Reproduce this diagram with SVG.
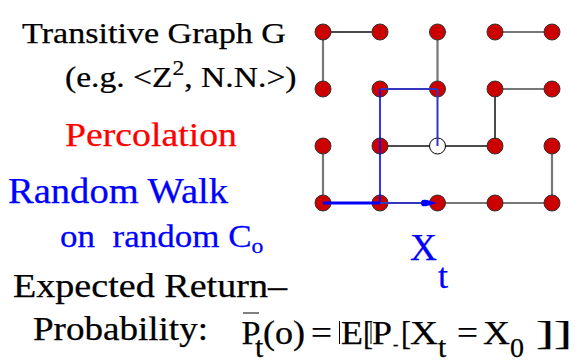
<svg xmlns="http://www.w3.org/2000/svg" width="579" height="362" viewBox="0 0 579 362" font-family="'Liberation Serif', 'Times New Roman', serif">
<style>
text{font-family:"Liberation Serif","Times New Roman",serif;stroke-width:0.25}
.k{fill:#000;stroke:#000}
.red{fill:#ff0000;stroke:#ff0000}
.blue{fill:#0000ff;stroke:#0000ff}
.node{fill:#cc0000;stroke:#333;stroke-width:1}
.open{fill:#fff;stroke:#000;stroke-width:1}
.e1{stroke:#111;stroke-width:1.5}
.e2{stroke:#777;stroke-width:2.2}
.wb{stroke:#0000ff;stroke-width:1.6}
.wp{stroke:#3535c0;stroke-width:2}
.bar{stroke:#000;stroke-width:1}
</style>
<rect width="579" height="362" fill="#fff"/>
<g id="connectors">
<line class="e1" x1="323" y1="32" x2="380" y2="32"/>
<line class="e2" x1="495" y1="32" x2="552" y2="32"/>
<line class="e2" x1="323" y1="32" x2="323" y2="89"/>
<line class="e2" x1="437.5" y1="32" x2="437.5" y2="89"/>
<line class="e2" x1="495" y1="89" x2="552" y2="89"/>
<line class="e1" x1="495" y1="89" x2="495" y2="146"/>
<line class="e1" x1="380" y1="146" x2="495" y2="146"/>
<line class="e2" x1="552" y1="146" x2="552" y2="203"/>
<line class="e2" x1="323" y1="146" x2="323" y2="203"/>
<line class="e2" x1="437.5" y1="203" x2="552" y2="203"/>
</g>
<g id="nodes">
<circle class="node" cx="323" cy="32" r="8"/>
<circle class="node" cx="380" cy="32" r="8"/>
<circle class="node" cx="437.5" cy="32" r="8"/>
<circle class="node" cx="495" cy="32" r="8"/>
<circle class="node" cx="552" cy="32" r="8"/>
<circle class="node" cx="323" cy="89" r="8"/>
<circle class="node" cx="380" cy="89" r="8"/>
<circle class="node" cx="437.5" cy="89" r="8"/>
<circle class="node" cx="495" cy="89" r="8"/>
<circle class="node" cx="552" cy="89" r="8"/>
<circle class="node" cx="323" cy="146" r="8"/>
<circle class="node" cx="380" cy="146" r="8"/>
<circle class="open" cx="437.5" cy="146" r="8"/>
<circle class="node" cx="495" cy="146" r="8"/>
<circle class="node" cx="552" cy="146" r="8"/>
<circle class="node" cx="323" cy="203" r="8"/>
<circle class="node" cx="380" cy="203" r="8"/>
<circle class="node" cx="437.5" cy="203" r="8"/>
<circle class="node" cx="495" cy="203" r="8"/>
<circle class="node" cx="552" cy="203" r="8"/>
</g>
<g id="walk">
<line class="wb" x1="380" y1="203" x2="380" y2="89"/>
<line class="wp" x1="380" y1="89" x2="437.5" y2="89"/>
<line class="wp" x1="437.5" y1="89" x2="437.5" y2="146"/>
<line x1="323" y1="203" x2="380" y2="203" stroke="#0000ff" stroke-width="3"/>
<line x1="380" y1="203" x2="424" y2="203" stroke="#3535c0" stroke-width="2.2"/>
<path d="M421,203 C421,199 424,199.5 427,200 L437,203 L427,206 C424,206.5 421,207 421,203 Z" fill="#0000ff"/>
</g>
<g id="labels">
<text class="k" x="22" y="43" font-size="30" textLength="264" lengthAdjust="spacingAndGlyphs">Transitive Graph G</text>
<text class="k" transform="translate(65,87) scale(1.12,1)" font-size="30">(e.g. &lt;Z<tspan font-size="21" dy="-12">2</tspan><tspan dy="12">, N.N.&gt;)</tspan></text>
<text class="red" x="65" y="146" font-size="34" textLength="172" lengthAdjust="spacingAndGlyphs">Percolation</text>
<text class="blue" x="8" y="203" font-size="35" textLength="220" lengthAdjust="spacingAndGlyphs">Random Walk</text>
<text class="blue" transform="translate(60,247) scale(1.13,1)" font-size="31">on&#160; random C<tspan font-size="21" dy="6">o</tspan></text>
<text class="blue" x="410" y="260" font-size="37" textLength="27" lengthAdjust="spacingAndGlyphs">X</text>
<text class="blue" x="438" y="288" font-size="36">t</text>
<text class="k" x="13" y="297" font-size="33" textLength="274" lengthAdjust="spacingAndGlyphs">Expected Return–</text>
<text class="k" x="33" y="340" font-size="33" textLength="175" lengthAdjust="spacingAndGlyphs">Probability:</text>
</g>
<g id="formula">
<line class="bar" x1="243" y1="313" x2="259" y2="313"/>
<text class="k" x="241.5" y="344" font-size="33" textLength="19" lengthAdjust="spacingAndGlyphs">P</text>
<text class="k" x="255" y="357" font-size="30">t</text>
<text class="k" x="263" y="344" font-size="33" textLength="42" lengthAdjust="spacingAndGlyphs">(o)</text>
<text class="k" x="311" y="344" font-size="33" textLength="21" lengthAdjust="spacingAndGlyphs">=</text>
<line class="bar" x1="339.5" y1="321" x2="339.5" y2="344"/>
<text class="k" x="341" y="344" font-size="33" textLength="22" lengthAdjust="spacingAndGlyphs">E</text>
<text class="k" x="363" y="344" font-size="33" textLength="10" lengthAdjust="spacingAndGlyphs">[</text>
<line class="bar" x1="371" y1="321" x2="371" y2="344"/>
<text class="k" x="372" y="344" font-size="33" textLength="20" lengthAdjust="spacingAndGlyphs">P</text>
<text class="k" x="393" y="350" font-size="16">-</text>
<text class="k" x="401" y="344" font-size="33" textLength="10" lengthAdjust="spacingAndGlyphs">[</text>
<text class="k" x="410" y="344" font-size="33" textLength="28" lengthAdjust="spacingAndGlyphs">X</text>
<text class="k" x="438" y="357" font-size="30">t</text>
<text class="k" x="457" y="344" font-size="33" textLength="21" lengthAdjust="spacingAndGlyphs">=</text>
<text class="k" x="483" y="344" font-size="33" textLength="27" lengthAdjust="spacingAndGlyphs">X</text>
<text class="k" x="510" y="357" font-size="28">0</text>
<text class="k" x="536" y="344" font-size="33" textLength="36" lengthAdjust="spacingAndGlyphs">]]</text>
</g>
</svg>
